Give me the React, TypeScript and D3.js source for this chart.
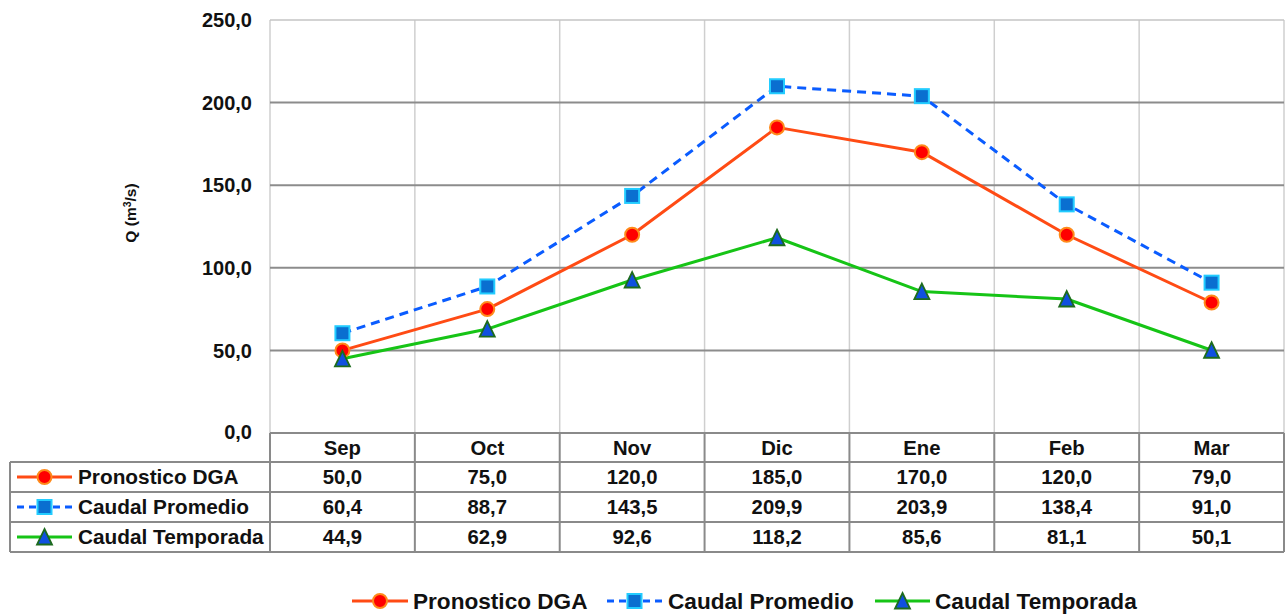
import React from "react";
import * as d3 from "d3";

const categories = ["Sep", "Oct", "Nov", "Dic", "Ene", "Feb", "Mar"];
const pronosticoDGA = [50.0, 75.0, 120.0, 185.0, 170.0, 120.0, 79.0];
const caudalPromedio = [60.4, 88.7, 143.5, 209.9, 203.9, 138.4, 91.0];
const caudalTemporada = [44.9, 62.9, 92.6, 118.2, 85.6, 81.1, 50.1];
const yTicks = [0, 50, 100, 150, 200, 250];
const seriesNames = ["Pronostico DGA", "Caudal Promedio", "Caudal Temporada"];

const W = 1286;
const H = 615;
const PL = 270;
const PR = 1284;
const PT = 20;
const PB = 433;
const TL = 10;
const rowEdges = [433, 462, 492, 522, 552];
const FONT = "'Liberation Sans', Arial, sans-serif";
const TFS = 20.3;
const fmt = (v: number) => v.toFixed(1).replace(".", ",");

type Kind = "circle" | "square" | "triangle";
const series = [
  { name: seriesNames[0], values: pronosticoDGA, color: "#ff4b14", dash: "", kind: "circle" as Kind, fill: "#ff0000", stroke: "#ff8a1a" },
  { name: seriesNames[1], values: caudalPromedio, color: "#0a5cff", dash: "9,6", kind: "square" as Kind, fill: "#0a6fd0", stroke: "#22ccff" },
  { name: seriesNames[2], values: caudalTemporada, color: "#16c416", dash: "", kind: "triangle" as Kind, fill: "#1050e0", stroke: "#1d6b1d" },
];

function Marker({ kind, x, y, fill, stroke }: { kind: Kind; x: number; y: number; fill: string; stroke: string }) {
  if (kind === "circle") return <circle cx={x} cy={y} r={7} fill={fill} stroke={stroke} strokeWidth={2} />;
  if (kind === "square") return <rect x={x - 7} y={y - 7} width={14} height={14} fill={fill} stroke={stroke} strokeWidth={2} />;
  const s = 7.5;
  return <path d={`M${x},${y - s - 0.5}L${x + s},${y + s}L${x - s},${y + s}Z`} fill={fill} stroke={stroke} strokeWidth={1.8} />;
}

function LegendKey({ s, x0, x1, y }: { s: typeof series[0]; x0: number; x1: number; y: number }) {
  return (
    <g>
      <line x1={x0} x2={x1} y1={y} y2={y} stroke={s.color} strokeWidth={3} strokeDasharray={s.dash ? "7,5" : undefined} />
      <Marker kind={s.kind} x={(x0 + x1) / 2} y={y} fill={s.fill} stroke={s.stroke} />
    </g>
  );
}

export default function App() {
  const x = d3.scaleBand<string>().domain(categories).range([PL, PR]);
  const y = d3.scaleLinear().domain([0, 250]).range([PB, PT]);
  const bw = x.bandwidth();
  const cx = (c: string) => (x(c) as number) + bw / 2;
  const line = d3.line<number>().x((_, i) => cx(categories[i])).y((v) => y(v));

  const legendPos = [
    { x0: 352, x1: 408, tx: 413 },
    { x0: 607, x1: 662, tx: 668 },
    { x0: 875, x1: 930, tx: 935 },
  ];

  return (
    <svg width={W} height={H} style={{ position: "absolute", left: 0, top: 0, background: "#fff" }} fontFamily={FONT}>
      <rect width={W} height={H} fill="#fff" />
      {/* vertical grid */}
      {categories.map((c, i) => (
        <line key={"vg" + i} x1={x(c)} x2={x(c)} y1={PT} y2={rowEdges[0]} stroke="#cfcfcf" strokeWidth={1.5} />
      ))}
      <line x1={PR} x2={PR} y1={PT} y2={rowEdges[0]} stroke="#cfcfcf" strokeWidth={1.5} />
      {/* horizontal grid */}
      {yTicks.map((t) => (
        <line key={"hg" + t} x1={PL} x2={PR} y1={y(t)} y2={y(t)} stroke={t === 250 || t === 0 ? "#c4c4c4" : "#8c8c8c"} strokeWidth={t === 250 || t === 0 ? 1.5 : 2} />
      ))}
      {yTicks.map((t) => (
        <text key={"yt" + t} x={252} y={t === 0 ? y(t) - 1 : y(t)} dy="0.36em" textAnchor="end" fontSize={20} fontWeight="bold" fill="#111">
          {fmt(t)}
        </text>
      ))}
      <text transform={`translate(131,213) rotate(-90)`} textAnchor="middle" dy="0.35em" fontSize={15.5} fontWeight="bold" fill="#111">
        Q (m<tspan dy="-5" fontSize={10.5}>3</tspan><tspan dy="5">/s)</tspan>
      </text>

      {/* series lines */}
      {series.map((s, si) => (
        <path key={"l" + si} d={line(s.values) || ""} fill="none" stroke={s.color} strokeWidth={3} strokeDasharray={s.dash || undefined} strokeLinejoin="round" />
      ))}
      {series.map((s, si) =>
        s.values.map((v, i) => <Marker key={"m" + si + i} kind={s.kind} x={cx(categories[i])} y={y(v)} fill={s.fill} stroke={s.stroke} />)
      )}

      {/* data table */}
      <g stroke="#8a8a8a" strokeWidth={2} fill="none">
        <line x1={PL} x2={PR} y1={rowEdges[0]} y2={rowEdges[0]} />
        {rowEdges.slice(1).map((ry, i) => (
          <line key={"tr" + i} x1={TL} x2={PR} y1={ry} y2={ry} />
        ))}
        <line x1={TL} x2={TL} y1={rowEdges[1]} y2={rowEdges[4]} />
        {categories.map((c, i) => (
          <line key={"tc" + i} x1={x(c)} x2={x(c)} y1={rowEdges[0]} y2={rowEdges[4]} />
        ))}
        <line x1={PR} x2={PR} y1={rowEdges[0]} y2={rowEdges[4]} />
      </g>
      {categories.map((c) => (
        <text key={"hc" + c} x={cx(c)} y={(rowEdges[0] + rowEdges[1]) / 2} dy="0.36em" textAnchor="middle" fontSize={TFS} fontWeight="bold" fill="#111">
          {c}
        </text>
      ))}
      {series.map((s, si) => {
        const ry = (rowEdges[si + 1] + rowEdges[si + 2]) / 2;
        return (
          <g key={"row" + si}>
            <LegendKey s={s} x0={17} x1={72} y={ry} />
            <text x={78} y={ry} dy="0.36em" fontSize={TFS + 0.5} fontWeight="bold" fill="#111">
              {s.name}
            </text>
            {s.values.map((v, i) => (
              <text key={"v" + i} x={cx(categories[i])} y={ry} dy="0.36em" textAnchor="middle" fontSize={TFS} fontWeight="bold" fill="#111">
                {fmt(v)}
              </text>
            ))}
          </g>
        );
      })}

      {/* bottom legend */}
      {series.map((s, si) => (
        <g key={"lg" + si}>
          <LegendKey s={s} x0={legendPos[si].x0} x1={legendPos[si].x1} y={601} />
          <text x={legendPos[si].tx} y={601} dy="0.36em" fontSize={22.6} fontWeight="bold" fill="#111">
            {s.name}
          </text>
        </g>
      ))}
    </svg>
  );
}
